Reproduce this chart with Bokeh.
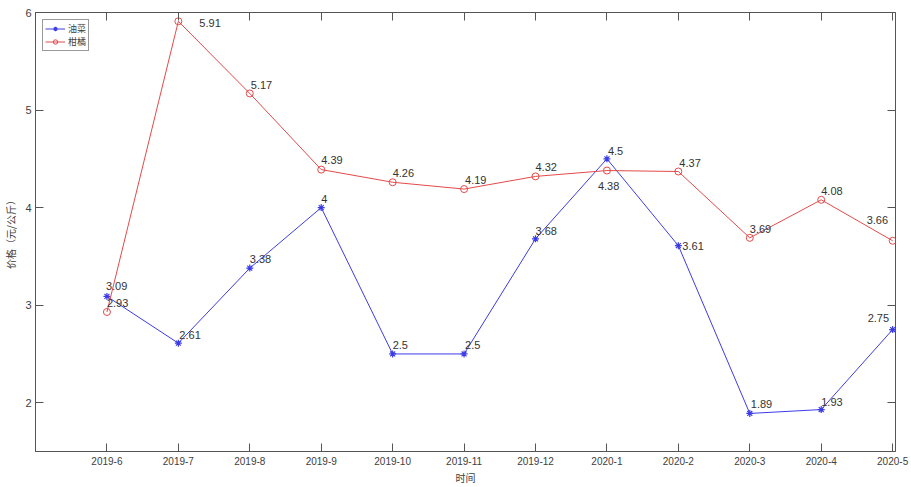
from bokeh.plotting import figure
from bokeh.models import Range1d, FixedTicker, LinearAxis, Legend, LegendItem, ColumnDataSource
from bokeh.embed import file_html
from bokeh.resources import INLINE
from bokeh.core.properties import value

# ---- data ----
months = ["2019-6", "2019-7", "2019-8", "2019-9", "2019-10", "2019-11",
          "2019-12", "2020-1", "2020-2", "2020-3", "2020-4", "2020-5"]
rapeseed = [3.09, 2.61, 3.38, 4, 2.5, 2.5, 3.68, 4.5, 3.61, 1.89, 1.93, 2.75]   # 油菜
citrus = [2.93, 5.91, 5.17, 4.39, 4.26, 4.19, 4.32, 4.38, 4.37, 3.69, 4.08, 3.66]  # 柑橘
y_ticks = [2, 3, 4, 5, 6]

# ---- label placement (pixel offsets, style only) ----
rape_dx = [-1, 1, 0, 0, 0, 1, 0, 1, 4, 1, 0, -25]
rape_dy = [-10, -8, -9, -9, -9, -9, -8, -8, 0, -9, -8, -12]
cit_dx = [0, 21, 1, 0, 0, 1, 0, -9, 1, 0, 0, -26]
cit_dy = [-9, 2, -8, -10, -9, -9, -9, 15, -9, -9, -9, -21]

BLUE = "#3c3ce6"
RED = "#e44a4a"
AX = "#555555"
TXT = "#404040"
LAT = "Liberation Sans"
CJK = "Noto Sans CJK SC"

xs = list(range(len(months)))

p = figure(width=911, height=487,
           x_range=Range1d(-1, 11.04), y_range=Range1d(1.5, 6),
           output_backend="svg", toolbar_location=None,
           min_border_left=35, min_border_right=16,
           min_border_top=12, min_border_bottom=35)

p.background_fill_color = "white"
p.border_fill_color = "white"
p.xgrid.visible = False
p.ygrid.visible = False
p.outline_line_color = AX
p.outline_line_width = 1

# bottom axis
xa = p.xaxis[0]
xa.ticker = FixedTicker(ticks=xs)
xa.major_label_overrides = {i: m for i, m in zip(xs, months)}
xa.axis_label = "时间"
xa.axis_label_text_font = CJK
xa.axis_label_text_font_style = "normal"
xa.axis_label_text_font_size = "10px"
xa.axis_label_text_color = TXT
xa.axis_label_standoff = 2
xa.major_label_text_font = LAT
xa.major_label_text_font_size = "10px"
xa.major_label_text_color = TXT
xa.major_label_standoff = 5
xa.major_tick_in = 8
xa.major_tick_out = 0
xa.minor_tick_line_color = None
xa.axis_line_color = AX
xa.major_tick_line_color = AX

# left axis
ya = p.yaxis[0]
ya.ticker = FixedTicker(ticks=y_ticks)
ya.axis_label = "价格（元/公斤）"
ya.axis_label_text_font = CJK
ya.axis_label_text_font_style = "normal"
ya.axis_label_text_font_size = "10px"
ya.axis_label_text_color = TXT
ya.axis_label_standoff = 4
ya.major_label_text_font = LAT
ya.major_label_text_font_size = "11px"
ya.major_label_text_color = TXT
ya.major_label_standoff = 4
ya.major_tick_in = 8
ya.major_tick_out = 0
ya.minor_tick_line_color = None
ya.axis_line_color = AX
ya.major_tick_line_color = AX

# mirrored ticks (top / right), no labels
top = LinearAxis(ticker=FixedTicker(ticks=xs), major_label_text_font_size="0px",
                 major_label_text_color=None,
                 major_label_standoff=0, major_tick_in=8, major_tick_out=0,
                 minor_tick_line_color=None, axis_line_color=None,
                 major_tick_line_color=AX)
right = LinearAxis(ticker=FixedTicker(ticks=y_ticks), major_label_text_font_size="0px",
                   major_label_text_color=None,
                   major_label_standoff=0, major_tick_in=8, major_tick_out=0,
                   minor_tick_line_color=None, axis_line_color=None,
                   major_tick_line_color=AX)
p.add_layout(top, "above")
p.add_layout(right, "right")

src_r = ColumnDataSource(dict(x=xs, y=rapeseed, t=[f"{v:g}" for v in rapeseed],
                              dx=rape_dx, dy=rape_dy))
src_c = ColumnDataSource(dict(x=xs, y=citrus, t=[f"{v:g}" for v in citrus],
                              dx=cit_dx, dy=cit_dy))

lr = p.line("x", "y", source=src_r, line_color=BLUE, line_width=1)
sr = p.scatter("x", "y", source=src_r, marker="asterisk", size=7,
               line_color=BLUE, line_width=1.2)
lc = p.line("x", "y", source=src_c, line_color=RED, line_width=1)
sc = p.scatter("x", "y", source=src_c, marker="circle", size=7,
               line_color=RED, fill_color=None, line_width=1)

for src in (src_r, src_c):
    p.text("x", "y", text="t", source=src, x_offset="dx", y_offset="dy",
           text_font=value(LAT), text_font_size="11px", text_color="#333333",
           text_align="left", text_baseline="middle")

legend = Legend(items=[LegendItem(label="油菜", renderers=[lr, sr]),
                       LegendItem(label="柑橘", renderers=[lc, sc])],
                location="top_left")
legend.margin = 7
legend.padding = 2
legend.spacing = 0
legend.glyph_width = 20
legend.glyph_height = 11
legend.label_height = 11
legend.label_width = 10
legend.label_standoff = 3
legend.label_text_font = CJK
legend.label_text_font_size = "9px"
legend.label_text_color = TXT
legend.border_line_color = "#333333"
legend.border_line_width = 1
legend.background_fill_color = "white"
legend.background_fill_alpha = 1
p.add_layout(legend)

open("out.html", "w").write(file_html(p, INLINE))
